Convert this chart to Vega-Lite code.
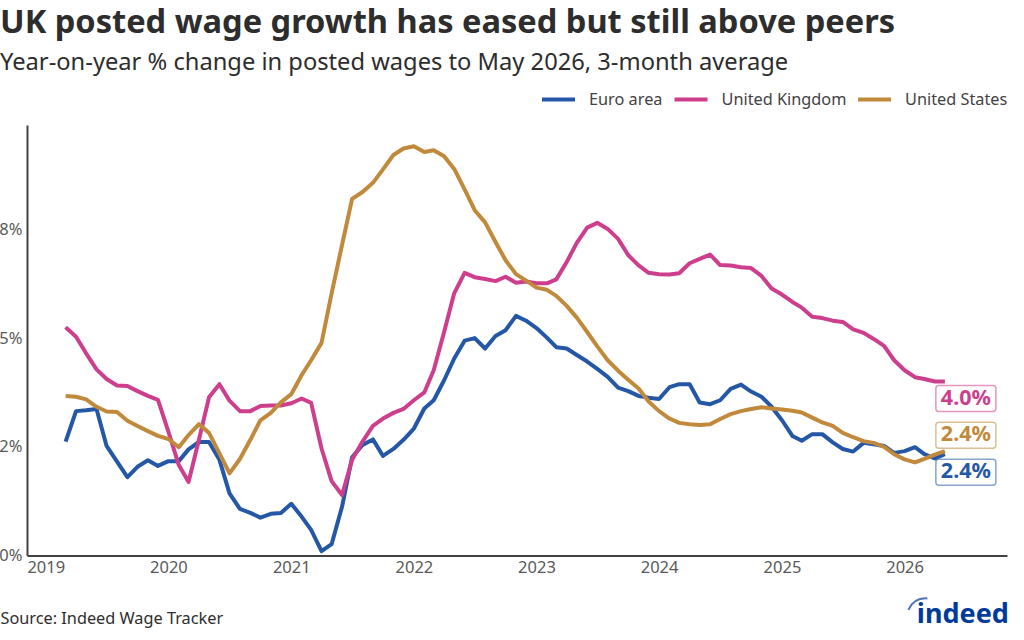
{"$schema":"https://vega.github.io/schema/vega-lite/v6.json","width":980,"height":430.5,"autosize":"none","padding":{"left":27,"top":125,"right":17,"bottom":84.5},"background":"white","title":{"text":"UK posted wage growth has eased but still above peers","subtitle":"Year-on-year % change in posted wages to May 2026, 3-month average","anchor":"start","frame":"group","dx":-27,"offset":6,"font":"Noto Sans","fontSize":32.6,"fontWeight":"bold","color":"#2d2d2d","subtitleFont":"Noto Sans","subtitleFontSize":23.7,"subtitleColor":"#2d2d2d","subtitlePadding":12},"config":{"font":"Noto Sans","view":{"stroke":null}},"data":{"values":[
{"date":"2019-03-01","series":"Euro area","value":2.62},{"date":"2019-04-01","series":"Euro area","value":3.32},{"date":"2019-05-01","series":"Euro area","value":3.34},{"date":"2019-06-01","series":"Euro area","value":3.37},{"date":"2019-07-01","series":"Euro area","value":2.52},{"date":"2019-08-01","series":"Euro area","value":2.16},{"date":"2019-09-01","series":"Euro area","value":1.8},{"date":"2019-10-01","series":"Euro area","value":2.04},{"date":"2019-11-01","series":"Euro area","value":2.19},{"date":"2019-12-01","series":"Euro area","value":2.06},
{"date":"2020-01-01","series":"Euro area","value":2.17},{"date":"2020-02-01","series":"Euro area","value":2.17},{"date":"2020-03-01","series":"Euro area","value":2.44},{"date":"2020-04-01","series":"Euro area","value":2.61},{"date":"2020-05-01","series":"Euro area","value":2.61},{"date":"2020-06-01","series":"Euro area","value":2.2},{"date":"2020-07-01","series":"Euro area","value":1.43},{"date":"2020-08-01","series":"Euro area","value":1.07},{"date":"2020-09-01","series":"Euro area","value":0.98},{"date":"2020-10-01","series":"Euro area","value":0.87},{"date":"2020-11-01","series":"Euro area","value":0.96},{"date":"2020-12-01","series":"Euro area","value":0.98},
{"date":"2021-01-01","series":"Euro area","value":1.19},{"date":"2021-02-01","series":"Euro area","value":0.89},{"date":"2021-03-01","series":"Euro area","value":0.59},{"date":"2021-04-01","series":"Euro area","value":0.1},{"date":"2021-05-01","series":"Euro area","value":0.26},{"date":"2021-06-01","series":"Euro area","value":1.12},{"date":"2021-07-01","series":"Euro area","value":2.26},{"date":"2021-08-01","series":"Euro area","value":2.54},{"date":"2021-09-01","series":"Euro area","value":2.67},{"date":"2021-10-01","series":"Euro area","value":2.29},{"date":"2021-11-01","series":"Euro area","value":2.45},{"date":"2021-12-01","series":"Euro area","value":2.66},
{"date":"2022-01-01","series":"Euro area","value":2.92},{"date":"2022-02-01","series":"Euro area","value":3.38},{"date":"2022-03-01","series":"Euro area","value":3.57},{"date":"2022-04-01","series":"Euro area","value":4.03},{"date":"2022-05-01","series":"Euro area","value":4.53},{"date":"2022-06-01","series":"Euro area","value":4.94},{"date":"2022-07-01","series":"Euro area","value":5.0},{"date":"2022-08-01","series":"Euro area","value":4.76},{"date":"2022-09-01","series":"Euro area","value":5.05},{"date":"2022-10-01","series":"Euro area","value":5.18},{"date":"2022-11-01","series":"Euro area","value":5.51},{"date":"2022-12-01","series":"Euro area","value":5.4},
{"date":"2023-01-01","series":"Euro area","value":5.23},{"date":"2023-02-01","series":"Euro area","value":5.01},{"date":"2023-03-01","series":"Euro area","value":4.79},{"date":"2023-04-01","series":"Euro area","value":4.76},{"date":"2023-05-01","series":"Euro area","value":4.61},{"date":"2023-06-01","series":"Euro area","value":4.46},{"date":"2023-07-01","series":"Euro area","value":4.29},{"date":"2023-08-01","series":"Euro area","value":4.11},{"date":"2023-09-01","series":"Euro area","value":3.86},{"date":"2023-10-01","series":"Euro area","value":3.78},{"date":"2023-11-01","series":"Euro area","value":3.67},{"date":"2023-12-01","series":"Euro area","value":3.63},
{"date":"2024-01-01","series":"Euro area","value":3.6},{"date":"2024-02-01","series":"Euro area","value":3.87},{"date":"2024-03-01","series":"Euro area","value":3.94},{"date":"2024-04-01","series":"Euro area","value":3.94},{"date":"2024-05-01","series":"Euro area","value":3.52},{"date":"2024-06-01","series":"Euro area","value":3.48},{"date":"2024-07-01","series":"Euro area","value":3.57},{"date":"2024-08-01","series":"Euro area","value":3.83},{"date":"2024-09-01","series":"Euro area","value":3.93},{"date":"2024-10-01","series":"Euro area","value":3.77},{"date":"2024-11-01","series":"Euro area","value":3.65},{"date":"2024-12-01","series":"Euro area","value":3.42},
{"date":"2025-01-01","series":"Euro area","value":3.11},{"date":"2025-02-01","series":"Euro area","value":2.75},{"date":"2025-03-01","series":"Euro area","value":2.64},{"date":"2025-04-01","series":"Euro area","value":2.79},{"date":"2025-05-01","series":"Euro area","value":2.79},{"date":"2025-06-01","series":"Euro area","value":2.6},{"date":"2025-07-01","series":"Euro area","value":2.45},{"date":"2025-08-01","series":"Euro area","value":2.39},{"date":"2025-09-01","series":"Euro area","value":2.59},{"date":"2025-10-01","series":"Euro area","value":2.56},{"date":"2025-11-01","series":"Euro area","value":2.52},{"date":"2025-12-01","series":"Euro area","value":2.36},
{"date":"2026-01-01","series":"Euro area","value":2.4},{"date":"2026-02-01","series":"Euro area","value":2.49},{"date":"2026-03-01","series":"Euro area","value":2.33},{"date":"2026-04-01","series":"Euro area","value":2.23},{"date":"2026-05-01","series":"Euro area","value":2.33},
{"date":"2019-03-01","series":"United Kingdom","value":5.25},{"date":"2019-04-01","series":"United Kingdom","value":5.03},{"date":"2019-05-01","series":"United Kingdom","value":4.65},{"date":"2019-06-01","series":"United Kingdom","value":4.28},{"date":"2019-07-01","series":"United Kingdom","value":4.06},{"date":"2019-08-01","series":"United Kingdom","value":3.91},{"date":"2019-09-01","series":"United Kingdom","value":3.9},{"date":"2019-10-01","series":"United Kingdom","value":3.78},{"date":"2019-11-01","series":"United Kingdom","value":3.67},{"date":"2019-12-01","series":"United Kingdom","value":3.58},
{"date":"2020-01-01","series":"United Kingdom","value":2.85},{"date":"2020-02-01","series":"United Kingdom","value":2.08},{"date":"2020-03-01","series":"United Kingdom","value":1.69},{"date":"2020-04-01","series":"United Kingdom","value":2.66},{"date":"2020-05-01","series":"United Kingdom","value":3.64},{"date":"2020-06-01","series":"United Kingdom","value":3.94},{"date":"2020-07-01","series":"United Kingdom","value":3.56},{"date":"2020-08-01","series":"United Kingdom","value":3.32},{"date":"2020-09-01","series":"United Kingdom","value":3.32},{"date":"2020-10-01","series":"United Kingdom","value":3.44},{"date":"2020-11-01","series":"United Kingdom","value":3.45},{"date":"2020-12-01","series":"United Kingdom","value":3.45},
{"date":"2021-01-01","series":"United Kingdom","value":3.5},{"date":"2021-02-01","series":"United Kingdom","value":3.61},{"date":"2021-03-01","series":"United Kingdom","value":3.51},{"date":"2021-04-01","series":"United Kingdom","value":2.46},{"date":"2021-05-01","series":"United Kingdom","value":1.71},{"date":"2021-06-01","series":"United Kingdom","value":1.39},{"date":"2021-07-01","series":"United Kingdom","value":2.2},{"date":"2021-08-01","series":"United Kingdom","value":2.62},{"date":"2021-09-01","series":"United Kingdom","value":2.98},{"date":"2021-10-01","series":"United Kingdom","value":3.15},{"date":"2021-11-01","series":"United Kingdom","value":3.28},{"date":"2021-12-01","series":"United Kingdom","value":3.37},
{"date":"2022-01-01","series":"United Kingdom","value":3.57},{"date":"2022-02-01","series":"United Kingdom","value":3.75},{"date":"2022-03-01","series":"United Kingdom","value":4.26},{"date":"2022-04-01","series":"United Kingdom","value":5.14},{"date":"2022-05-01","series":"United Kingdom","value":6.03},{"date":"2022-06-01","series":"United Kingdom","value":6.5},{"date":"2022-07-01","series":"United Kingdom","value":6.4},{"date":"2022-08-01","series":"United Kingdom","value":6.36},{"date":"2022-09-01","series":"United Kingdom","value":6.31},{"date":"2022-10-01","series":"United Kingdom","value":6.41},{"date":"2022-11-01","series":"United Kingdom","value":6.27},{"date":"2022-12-01","series":"United Kingdom","value":6.3},
{"date":"2023-01-01","series":"United Kingdom","value":6.26},{"date":"2023-02-01","series":"United Kingdom","value":6.26},{"date":"2023-03-01","series":"United Kingdom","value":6.35},{"date":"2023-04-01","series":"United Kingdom","value":6.75},{"date":"2023-05-01","series":"United Kingdom","value":7.19},{"date":"2023-06-01","series":"United Kingdom","value":7.54},{"date":"2023-07-01","series":"United Kingdom","value":7.65},{"date":"2023-08-01","series":"United Kingdom","value":7.51},{"date":"2023-09-01","series":"United Kingdom","value":7.28},{"date":"2023-10-01","series":"United Kingdom","value":6.91},{"date":"2023-11-01","series":"United Kingdom","value":6.67},{"date":"2023-12-01","series":"United Kingdom","value":6.5},
{"date":"2024-01-01","series":"United Kingdom","value":6.47},{"date":"2024-02-01","series":"United Kingdom","value":6.46},{"date":"2024-03-01","series":"United Kingdom","value":6.49},{"date":"2024-04-01","series":"United Kingdom","value":6.72},{"date":"2024-05-01","series":"United Kingdom","value":6.82},{"date":"2024-06-01","series":"United Kingdom","value":6.92},{"date":"2024-07-01","series":"United Kingdom","value":6.68},{"date":"2024-08-01","series":"United Kingdom","value":6.67},{"date":"2024-09-01","series":"United Kingdom","value":6.63},{"date":"2024-10-01","series":"United Kingdom","value":6.61},{"date":"2024-11-01","series":"United Kingdom","value":6.43},{"date":"2024-12-01","series":"United Kingdom","value":6.14},
{"date":"2025-01-01","series":"United Kingdom","value":6.0},{"date":"2025-02-01","series":"United Kingdom","value":5.83},{"date":"2025-03-01","series":"United Kingdom","value":5.7},{"date":"2025-04-01","series":"United Kingdom","value":5.49},{"date":"2025-05-01","series":"United Kingdom","value":5.46},{"date":"2025-06-01","series":"United Kingdom","value":5.4},{"date":"2025-07-01","series":"United Kingdom","value":5.37},{"date":"2025-08-01","series":"United Kingdom","value":5.2},{"date":"2025-09-01","series":"United Kingdom","value":5.12},{"date":"2025-10-01","series":"United Kingdom","value":4.98},{"date":"2025-11-01","series":"United Kingdom","value":4.82},{"date":"2025-12-01","series":"United Kingdom","value":4.49},
{"date":"2026-01-01","series":"United Kingdom","value":4.26},{"date":"2026-02-01","series":"United Kingdom","value":4.1},{"date":"2026-03-01","series":"United Kingdom","value":4.06},{"date":"2026-04-01","series":"United Kingdom","value":4.0},{"date":"2026-05-01","series":"United Kingdom","value":4.0},
{"date":"2019-03-01","series":"United States","value":3.67},{"date":"2019-04-01","series":"United States","value":3.65},{"date":"2019-05-01","series":"United States","value":3.59},{"date":"2019-06-01","series":"United States","value":3.42},{"date":"2019-07-01","series":"United States","value":3.31},{"date":"2019-08-01","series":"United States","value":3.3},{"date":"2019-09-01","series":"United States","value":3.1},{"date":"2019-10-01","series":"United States","value":2.98},{"date":"2019-11-01","series":"United States","value":2.86},{"date":"2019-12-01","series":"United States","value":2.75},
{"date":"2020-01-01","series":"United States","value":2.68},{"date":"2020-02-01","series":"United States","value":2.49},{"date":"2020-03-01","series":"United States","value":2.77},{"date":"2020-04-01","series":"United States","value":3.02},{"date":"2020-05-01","series":"United States","value":2.82},{"date":"2020-06-01","series":"United States","value":2.35},{"date":"2020-07-01","series":"United States","value":1.89},{"date":"2020-08-01","series":"United States","value":2.22},{"date":"2020-09-01","series":"United States","value":2.66},{"date":"2020-10-01","series":"United States","value":3.11},{"date":"2020-11-01","series":"United States","value":3.28},{"date":"2020-12-01","series":"United States","value":3.52},
{"date":"2021-01-01","series":"United States","value":3.71},{"date":"2021-02-01","series":"United States","value":4.15},{"date":"2021-03-01","series":"United States","value":4.49},{"date":"2021-04-01","series":"United States","value":4.89},{"date":"2021-05-01","series":"United States","value":6.03},{"date":"2021-06-01","series":"United States","value":7.14},{"date":"2021-07-01","series":"United States","value":8.2},{"date":"2021-08-01","series":"United States","value":8.36},{"date":"2021-09-01","series":"United States","value":8.57},{"date":"2021-10-01","series":"United States","value":8.88},{"date":"2021-11-01","series":"United States","value":9.21},{"date":"2021-12-01","series":"United States","value":9.36},
{"date":"2022-01-01","series":"United States","value":9.41},{"date":"2022-02-01","series":"United States","value":9.28},{"date":"2022-03-01","series":"United States","value":9.32},{"date":"2022-04-01","series":"United States","value":9.18},{"date":"2022-05-01","series":"United States","value":8.89},{"date":"2022-06-01","series":"United States","value":8.42},{"date":"2022-07-01","series":"United States","value":7.94},{"date":"2022-08-01","series":"United States","value":7.66},{"date":"2022-09-01","series":"United States","value":7.21},{"date":"2022-10-01","series":"United States","value":6.79},{"date":"2022-11-01","series":"United States","value":6.47},{"date":"2022-12-01","series":"United States","value":6.32},
{"date":"2023-01-01","series":"United States","value":6.16},{"date":"2023-02-01","series":"United States","value":6.11},{"date":"2023-03-01","series":"United States","value":5.97},{"date":"2023-04-01","series":"United States","value":5.74},{"date":"2023-05-01","series":"United States","value":5.47},{"date":"2023-06-01","series":"United States","value":5.14},{"date":"2023-07-01","series":"United States","value":4.81},{"date":"2023-08-01","series":"United States","value":4.49},{"date":"2023-09-01","series":"United States","value":4.25},{"date":"2023-10-01","series":"United States","value":4.04},{"date":"2023-11-01","series":"United States","value":3.84},{"date":"2023-12-01","series":"United States","value":3.54},
{"date":"2024-01-01","series":"United States","value":3.32},{"date":"2024-02-01","series":"United States","value":3.15},{"date":"2024-03-01","series":"United States","value":3.05},{"date":"2024-04-01","series":"United States","value":3.02},{"date":"2024-05-01","series":"United States","value":3.0},{"date":"2024-06-01","series":"United States","value":3.02},{"date":"2024-07-01","series":"United States","value":3.14},{"date":"2024-08-01","series":"United States","value":3.25},{"date":"2024-09-01","series":"United States","value":3.32},{"date":"2024-10-01","series":"United States","value":3.37},{"date":"2024-11-01","series":"United States","value":3.41},{"date":"2024-12-01","series":"United States","value":3.38},
{"date":"2025-01-01","series":"United States","value":3.36},{"date":"2025-02-01","series":"United States","value":3.33},{"date":"2025-03-01","series":"United States","value":3.29},{"date":"2025-04-01","series":"United States","value":3.17},{"date":"2025-05-01","series":"United States","value":3.06},{"date":"2025-06-01","series":"United States","value":2.98},{"date":"2025-07-01","series":"United States","value":2.82},{"date":"2025-08-01","series":"United States","value":2.72},{"date":"2025-09-01","series":"United States","value":2.63},{"date":"2025-10-01","series":"United States","value":2.59},{"date":"2025-11-01","series":"United States","value":2.5},{"date":"2025-12-01","series":"United States","value":2.33},
{"date":"2026-01-01","series":"United States","value":2.21},{"date":"2026-02-01","series":"United States","value":2.14},{"date":"2026-03-01","series":"United States","value":2.22},{"date":"2026-04-01","series":"United States","value":2.32},{"date":"2026-05-01","series":"United States","value":2.4}
]},
"encoding":{
"x":{"field":"date","type":"temporal","title":"Source: Indeed Wage Tracker","scale":{"type":"utc","domain":["2018-11-06","2026-11-02"],"nice":false},"axis":{"format":"%Y","tickCount":"year","grid":false,"ticks":false,"domainColor":"#424242","domainWidth":2,"labelColor":"#595959","labelFontSize":16.5,"labelPadding":4,"labelFlush":false,"titleFontSize":16.3,"titleFontWeight":"normal","titleColor":"#2d2d2d","titleAlign":"left","titleAnchor":"start","titleX":-27,"titleY":68,"titleBaseline":"alphabetic"}},
"y":{"field":"value","type":"quantitative","title":null,"scale":{"domain":[0,9.9],"nice":false},"axis":{"values":[0,2.5,5,7.5],"labelExpr":"datum.value == 0 ? '0%' : datum.value == 2.5 ? '2%' : datum.value == 5 ? '5%' : '8%'","grid":false,"ticks":false,"domainColor":"#424242","domainWidth":2,"labelColor":"#595959","labelFontSize":16.5,"labelPadding":5}},
"color":{"field":"series","type":"nominal","title":null,"scale":{"domain":["Euro area","United Kingdom","United States"],"range":["#2557a7","#cd3f8c","#c1893b"]},"legend":null}
},
"layer":[
{"mark":{"type":"line","strokeWidth":4,"strokeJoin":"round","strokeCap":"butt","clip":false},"encoding":{"color":{"field":"series","type":"nominal","scale":{"domain":["Euro area","United Kingdom","United States"],"range":["#2557a7","#cd3f8c","#c1893b"]},"legend":{"orient":"none","legendX":513,"legendY":-44,"direction":"horizontal","columns":3,"title":null,"symbolType":"stroke","symbolSize":1089,"symbolStrokeWidth":4,"labelFontSize":16.3,"labelColor":"#424242","labelOffset":12,"columnPadding":3.5}}}},
{"data":{"values":[{"date":"2026-05-01","series":"United Kingdom","value":4.0,"label":"4.0%"}]},"mark":{"type":"rect","width":60,"height":26,"cornerRadius":3,"fill":"white","strokeWidth":1.5,"strokeOpacity":0.55,"xOffset":21,"yOffset":17},"encoding":{"stroke":{"field":"series","type":"nominal","legend":null,"scale":{"domain":["Euro area","United Kingdom","United States"],"range":["#2557a7","#cd3f8c","#c1893b"]}},"color":{"value":null}}},
{"data":{"values":[{"date":"2026-05-01","series":"United Kingdom","value":4.0,"label":"4.0%"}]},"mark":{"type":"text","fontSize":21.5,"fontWeight":"bold","dx":21,"dy":17},"encoding":{"text":{"field":"label"}}},
{"data":{"values":[{"date":"2026-05-01","series":"United States","value":2.4,"label":"2.4%"}]},"mark":{"type":"rect","width":60,"height":26,"cornerRadius":3,"fill":"white","strokeWidth":1.5,"strokeOpacity":0.55,"xOffset":21,"yOffset":-16},"encoding":{"stroke":{"field":"series","type":"nominal","legend":null,"scale":{"domain":["Euro area","United Kingdom","United States"],"range":["#2557a7","#cd3f8c","#c1893b"]}},"color":{"value":null}}},
{"data":{"values":[{"date":"2026-05-01","series":"United States","value":2.4,"label":"2.4%"}]},"mark":{"type":"text","fontSize":21.5,"fontWeight":"bold","dx":21,"dy":-16},"encoding":{"text":{"field":"label"}}},
{"data":{"values":[{"date":"2026-05-01","series":"Euro area","value":2.4,"label":"2.4%"}]},"mark":{"type":"rect","width":60,"height":26,"cornerRadius":3,"fill":"white","strokeWidth":1.5,"strokeOpacity":0.55,"xOffset":21,"yOffset":21},"encoding":{"stroke":{"field":"series","type":"nominal","legend":null,"scale":{"domain":["Euro area","United Kingdom","United States"],"range":["#2557a7","#cd3f8c","#c1893b"]}},"color":{"value":null}}},
{"data":{"values":[{"date":"2026-05-01","series":"Euro area","value":2.4,"label":"2.4%"}]},"mark":{"type":"text","fontSize":21.5,"fontWeight":"bold","dx":21,"dy":21},"encoding":{"text":{"field":"label"}}},
{"data":{"values":[{"date":"2026-05-01","value":2.4,"label":"indeed"}]},"mark":{"type":"text","font":"Noto Sans","fontSize":27,"fontWeight":"bold","align":"left","baseline":"alphabetic","dx":-28,"dy":172},"encoding":{"text":{"field":"label"},"color":{"value":"#003a9b"}}},
{"data":{"values":[{"date":"2026-05-01","value":2.4}]},"mark":{"type":"point","shape":"M -0.5 0.3 Q -0.2 -0.35 0.5 -0.3","size":1444,"filled":false,"strokeWidth":2,"xOffset":-27,"yOffset":153},"encoding":{"color":{"value":"#003a9b"}}}
]}
